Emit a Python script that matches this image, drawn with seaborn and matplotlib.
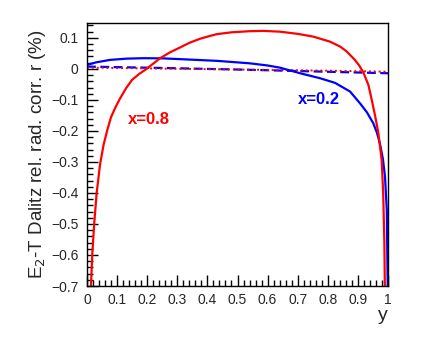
import numpy as np
import pandas as pd
import matplotlib
matplotlib.use("Agg")
import matplotlib.pyplot as plt
import seaborn as sns
from matplotlib.ticker import MultipleLocator, FuncFormatter

# data
red_y = [0.0125, 0.0133, 0.0177, 0.024, 0.032, 0.043, 0.055, 0.068, 0.080, 0.095, 0.110,
         0.130, 0.150, 0.175, 0.198, 0.220, 0.243, 0.275, 0.309, 0.340, 0.375, 0.400,
         0.431, 0.480, 0.541, 0.586, 0.641, 0.700, 0.752, 0.807, 0.841, 0.863, 0.890,
         0.905, 0.918, 0.935, 0.946, 0.958, 0.968, 0.979, 0.984, 0.988, 0.990]
red_r = [-0.75, -0.697, -0.595, -0.498, -0.401, -0.310, -0.245, -0.195, -0.155, -0.123,
         -0.095, -0.062, -0.035, -0.015, 0.0, 0.017, 0.0345, 0.053, 0.069, 0.084, 0.097,
         0.104, 0.112, 0.118, 0.1216, 0.1226, 0.120, 0.113, 0.104, 0.088, 0.072, 0.056,
         0.029, 0.010, -0.011, -0.052, -0.10, -0.155, -0.207, -0.294, -0.401, -0.562,
         -0.75]
blue_y = [0.0, 0.030, 0.076, 0.130, 0.187, 0.250, 0.320, 0.431, 0.541, 0.600, 0.641,
          0.708, 0.774, 0.824, 0.874, 0.907, 0.930, 0.951, 0.963, 0.973, 0.983, 0.990,
          0.996, 0.999, 1.0]
blue_r = [0.013, 0.021, 0.029, 0.033, 0.0345, 0.034, 0.031, 0.026, 0.018, 0.011, 0.004,
          -0.014, -0.030, -0.045, -0.073, -0.111, -0.140, -0.175, -0.205, -0.240, -0.290,
          -0.347, -0.455, -0.697, -0.75]
dash_y = [0.0, 0.25, 0.5, 0.75, 1.0]
blue_dash_r = [0.0075, 0.003, -0.002, -0.008, -0.014]
red_dot_r = [0.004, 0.001, -0.002, -0.005, -0.009]

x_ticks = [0, 0.1, 0.2, 0.3, 0.4, 0.5, 0.6, 0.7, 0.8, 0.9, 1]
y_ticks = [-0.7, -0.6, -0.5, -0.4, -0.3, -0.2, -0.1, 0, 0.1]

sns.set_theme(style="white")
plt.rcParams['font.family'] = ['Liberation Sans', 'DejaVu Sans']

fig = plt.figure(figsize=(4.36, 3.45), dpi=100)
ax = fig.add_axes([87/436, 1 - 286/345, (388-87)/436, (286-23)/345])

df_red = pd.DataFrame({"y": red_y, "r": red_r})
df_blue = pd.DataFrame({"y": blue_y, "r": blue_r})
df_bd = pd.DataFrame({"y": dash_y, "r": blue_dash_r})
df_rd = pd.DataFrame({"y": dash_y, "r": red_dot_r})

sns.lineplot(data=df_bd, x="y", y="r", ax=ax, color="#0000ff", lw=1.6,
             linestyle=(0, (4, 2)), sort=False, estimator=None)
sns.lineplot(data=df_rd, x="y", y="r", ax=ax, color="#ff0000", lw=1.4,
             linestyle=(0, (1, 1.5)), sort=False, estimator=None)
sns.lineplot(data=df_blue, x="y", y="r", ax=ax, color="#0000ff", lw=1.6,
             sort=False, estimator=None)
sns.lineplot(data=df_red, x="y", y="r", ax=ax, color="#ff0000", lw=1.6,
             sort=False, estimator=None)

ax.set_xlim(0, 1)
ax.set_ylim(-0.7, 0.148)
ax.set_xticks(x_ticks)
ax.set_yticks(y_ticks)
ax.xaxis.set_minor_locator(MultipleLocator(0.02))
ax.yaxis.set_minor_locator(MultipleLocator(0.02))

def fmt(v, pos):
    if abs(v) < 1e-9:
        return "0"
    if abs(v - 1) < 1e-9:
        return "1"
    s = f"{v:.1f}"
    return s.replace("-", "\u2212")

ax.xaxis.set_major_formatter(FuncFormatter(fmt))
ax.yaxis.set_major_formatter(FuncFormatter(fmt))

ax.tick_params(axis="both", which="both", bottom=True, left=True, top=False, right=False)
ax.tick_params(axis="both", which="major", direction="in", length=8, width=1,
               labelsize=10, color="black")
ax.tick_params(axis="both", which="minor", direction="in", length=4, width=1,
               color="black")
ax.tick_params(axis="x", which="major", pad=5)
ax.tick_params(axis="y", which="major", pad=6)

for s in ax.spines.values():
    s.set_color("black")
    s.set_linewidth(1.0)

ax.set_xlabel("y", fontsize=14, loc="right", labelpad=0)
ax.set_ylabel("E$_2$-T Dalitz rel. rad. corr. r (%)", fontsize=13.5, loc="center", labelpad=2)

ax.text(0.204, -0.163, "x=0.8", color="#ff0000", fontsize=12, fontweight="bold",
        ha="center", va="center")
ax.text(0.771, -0.10, "x=0.2", color="#0000ff", fontsize=12, fontweight="bold",
        ha="center", va="center")

fig.savefig("out.png", dpi=100)
